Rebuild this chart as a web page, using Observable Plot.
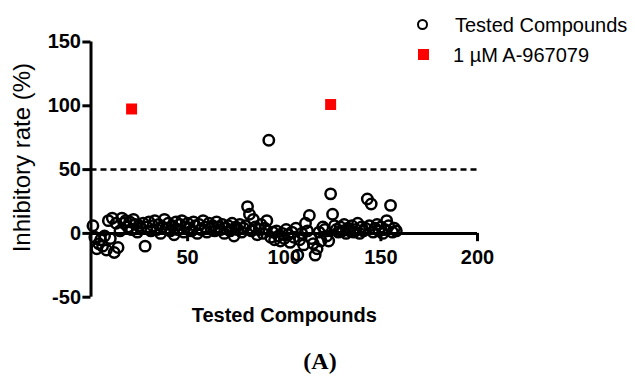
<!DOCTYPE html>
<html><head><meta charset="utf-8">
<script src="https://cdn.jsdelivr.net/npm/d3@7"></script>
<script src="https://cdn.jsdelivr.net/npm/@observablehq/plot@0.6"></script>
<style>
body{margin:0;background:#fff;font-family:"Liberation Sans",Arial,sans-serif;}
#wrap{position:relative;width:635px;height:378px;overflow:hidden;background:#fff;}
#chart{position:absolute;left:0;top:0;}
.abs{position:absolute;white-space:nowrap;color:#000;}
.legtxt{font-size:20px;line-height:24px;}
.circ{width:7px;height:7px;border:2.5px solid #000;border-radius:50%;}
.sq{width:11px;height:11px;background:#ff0000;}
#cap{font-family:"Liberation Serif","Times New Roman",serif;font-weight:bold;font-size:24px;line-height:28px;text-align:center;width:100px;}
</style>
</head><body>
<div id="wrap">
  <div id="chart"></div>
  <div class="abs circ" style="left:417px;top:19px;"></div>
  <div class="abs legtxt" style="left:455px;top:13px;">Tested Compounds</div>
  <div class="abs sq" style="left:417.5px;top:48.5px;"></div>
  <div class="abs legtxt" style="left:453px;top:43px;">1 µM A-967079</div>
  <div class="abs" id="cap" style="left:270px;top:347px;">(A)</div>
</div>
<script>
// Inhibitory rate (%) of each tested compound, in compound order 1..158
const compoundValues = [
  6, -3, -12, -8, -5, -10, -2, -13, 10, -4, 12, -15, 8, -11, 2, 12, 8, 10, 5, 9,
  3, 11, 7, 1, 6, 4, 8, -10, 5, 9, 2, 6, 10, 3, 7, 0, 5, 11, 4, 8,
  2, 6, -1, 9, 3, 7, 10, 1, 5, 8, 4, 2, 9, 6, 0, 7, 3, 10, 5, 1,
  8, 4, 6, 2, 9, 5, 3, 7, 0, 4, 6, 2, 8, -2, 5, 3, 7, 1, 4, 6,
  21, 15, 2, 11, 5, -1, 3, 7, 0, 4, 10, 73, -3, 1, -5, 2, -2, -6, 0, -4,
  3, -1, -7, 1, -3, 4, -17, -5, 0, -9, 8, 2, 14, -4, -8, -17, -12, 1, -6, 5,
  3, -2, -6, 31, 15, 6, 3, 1, 5, 2, 7, 0, 4, 2, 6, 1, 3, 8, 0, 5,
  2, 4, 27, 6, 23, 1, 4, 7, 2, 5, 0, 3, 10, 6, 22, 1, 4, 2
];
// 1 µM A-967079 reference points
const refCompound = [21, 124];
const refValues = [97.5, 101];
const xTicks = [50, 100, 150, 200];
const yTicks = [-50, 0, 50, 100, 150];
const threshold = [50];
const yLabel = ["Inhibitory rate (%)"];
const xLabel = ["Tested Compounds"];

const compounds = compoundValues.map((v, i) => ({x: i + 1, y: v}));
const refs = refCompound.map((x, i) => ({x, y: refValues[i]}));

const chart = Plot.plot({
  width: 635,
  height: 335,
  marginLeft: 90.5,
  marginRight: 158,
  marginTop: 41.5,
  marginBottom: 38.3,
  x: {domain: [0, 200], axis: null},
  y: {domain: [-50, 150], axis: null},
  style: {fontFamily: "'Liberation Sans', Arial, sans-serif", fontSize: "20px", color: "#000", background: "#fff", overflow: "visible"},
  marks: [
    // axes
    Plot.ruleX([0], {y1: -50, y2: 150, stroke: "#000", strokeWidth: 3}),
    Plot.ruleY(yTicks, {y: d => d, x1: 0, x2: -4.2, stroke: "#000", strokeWidth: 3}),
    Plot.text(yTicks, {x: 0, y: d => d, text: d => String(d), dx: -10, textAnchor: "end", fontWeight: "bold", fontSize: 20}),
    Plot.ruleY([0], {x1: 0, x2: 200, stroke: "#000", strokeWidth: 3}),
    Plot.ruleX(xTicks, {x: d => d, y1: 0, y2: -6.5, stroke: "#000", strokeWidth: 3}),
    Plot.text(xTicks, {x: d => d, y: 0, text: d => String(d), dy: 24, fontWeight: "bold", fontSize: 20}),
    Plot.text(yLabel, {text: d => d, frameAnchor: "left", textAnchor: "middle", lineAnchor: "middle", rotate: -90, dx: -68.5, dy: -12, fontSize: 24}),
    Plot.text(xLabel, {text: d => d, frameAnchor: "bottom", textAnchor: "middle", lineAnchor: "middle", dy: 18.3, fontWeight: "bold", fontSize: 20}),
    // threshold
    Plot.ruleY(threshold, {y: d => d, x1: 0, x2: 200, stroke: "#000", strokeWidth: 2.5, strokeDasharray: "6,4"}),
    // data
    Plot.dot(compounds, {x: "x", y: "y", r: 5.2, stroke: "#000", strokeWidth: 2.5, fill: "none"}),
    Plot.dot(refs, {x: "x", y: "y", symbol: "square", r: 6.2, fill: "#ff0000", stroke: "none"})
  ]
});
document.getElementById("chart").appendChild(chart);
</script>
</body></html>
